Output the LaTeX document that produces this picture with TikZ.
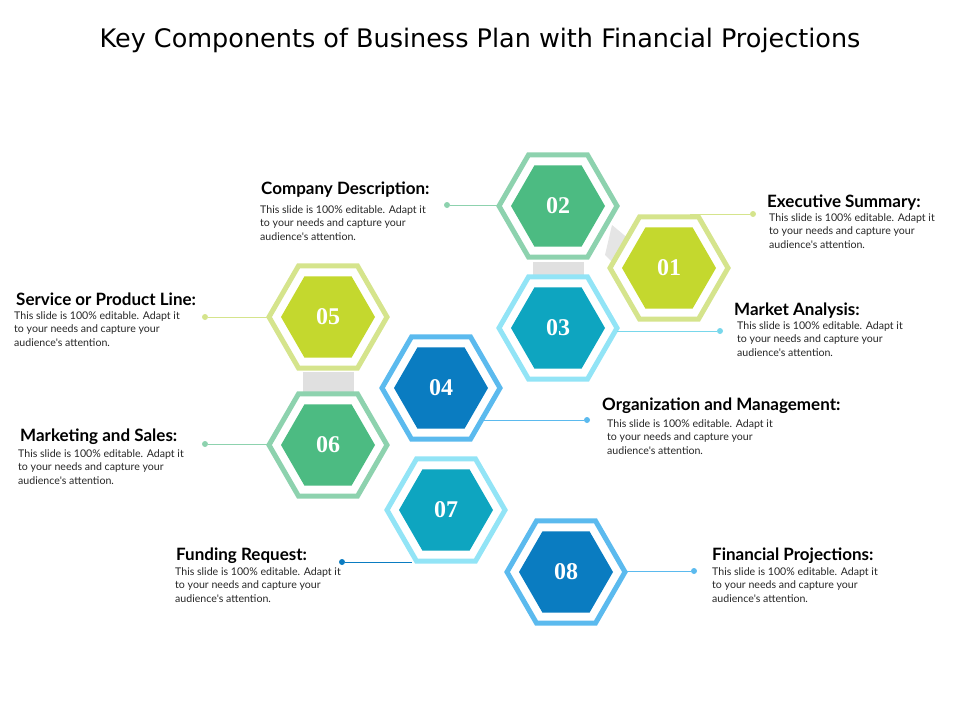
\documentclass[tikz,border=0pt]{standalone}
\usepackage{fontspec}
\setmainfont{Liberation Serif}
\newfontfamily\hd{Lato}
\newfontfamily\tl{DejaVu Sans}
\usetikzlibrary{shapes.geometric}
\definecolor{gF}{HTML}{4CBB82}\definecolor{gR}{HTML}{8DD2AE}
\definecolor{lF}{HTML}{C4D82E}\definecolor{lR}{HTML}{D5E48C}
\definecolor{cF}{HTML}{0EA5C0}\definecolor{cR}{HTML}{92E4F6}
\definecolor{bF}{HTML}{0A7CC1}\definecolor{bR}{HTML}{5BBAEE}
\tikzset{x=1pt,y=-1pt,
 hexring/.style={regular polygon,regular polygon sides=6,minimum size=118pt,line width=5pt,fill=white,inner sep=0},
 hexfill/.style={regular polygon,regular polygon sides=6,minimum size=94pt,inner sep=0,text=white,font=\bfseries\fontsize{24}{24}\selectfont},
 ttl/.style={anchor=west,inner sep=0,font=\hd\bfseries\fontsize{17}{17}\selectfont},
 body/.style={anchor=north west,inner sep=0,align=left,font=\hd\fontsize{10.6}{13.5}\selectfont,text=black!85},
 dotc/.style={circle,minimum size=6pt,inner sep=0}}
\newcommand{\bodytext}{This slide is 100\% editable. Adapt it\\to your needs and capture your\\audience's attention.}
\newcommand{\hexa}[5]{\node[hexring,draw=#4] (#1r) at #2 {}; \node[hexfill,fill=#5] (#1) at #2 {#3};}
\begin{document}
\begin{tikzpicture}
\useasboundingbox (0,0) rectangle (960,720);
\node[font=\tl\fontsize{25.5}{26}\selectfont] (title) at (480,40) {Key Components of Business Plan with Financial Projections};
% shadows
\fill[black!12] (533,262) rectangle (584,280);
\fill[black!12] (303,372) rectangle (354,392);
\fill[black!10] (612,225) -- (630,240) -- (620,270) -- (605,255) -- cycle;
\hexa{h02}{(558,206)}{02}{gR}{gF}
\hexa{h03}{(558,328)}{03}{cR}{cF}
\hexa{h01}{(669,268)}{01}{lR}{lF}
\hexa{h05}{(328,317)}{05}{lR}{lF}
\hexa{h06}{(328,445)}{06}{gR}{gF}
\hexa{h04}{(441,388)}{04}{bR}{bF}
\hexa{h07}{(446,510)}{07}{cR}{cF}
\hexa{h08}{(566,572)}{08}{bR}{bF}
% dots
\node[dotc,fill=gR] (d02) at (447,205) {};
\node[dotc,fill=lR] (d01) at (753,214) {};
\node[dotc,fill=cR!80!cF] (d03) at (720,331) {};
\node[dotc,fill=lR] (d05) at (205,317) {};
\node[dotc,fill=bR] (d04) at (587,420) {};
\node[dotc,fill=gR] (d06) at (205,444) {};
\node[dotc,fill=bF] (d07) at (342,562) {};
\node[dotc,fill=bR] (d08) at (694,571) {};
\coordinate (c01) at (690,214); \coordinate (c04) at (484,420); \coordinate (c07) at (412,562);
\coordinate (c02) at (499,205); \coordinate (c03) at (617,331); \coordinate (c05) at (269,317);
\coordinate (c06) at (269,444); \coordinate (c08) at (625,571);
\draw[gR,line width=0.8pt] (d02) -- (c02);
\draw[lR,line width=0.8pt] (d01) -- (c01);
\draw[cR!80!cF,line width=0.8pt] (d03) -- (c03);
\draw[lR,line width=0.8pt] (d05) -- (c05);
\draw[bR,line width=0.8pt] (d04) -- (c04);
\draw[gR,line width=0.8pt] (d06) -- (c06);
\draw[bF,line width=0.8pt] (d07) -- (c07);
\draw[bR,line width=0.8pt] (d08) -- (c08);
% texts
\node[ttl] (t02) at (261,190) {Company Description:};
\node[body] (b02) at (260,205) {\bodytext};
\node[ttl] (t01) at (767,203) {Executive Summary:};
\node[body] (b01) at (769,213) {\bodytext};
\node[ttl] (t03) at (734,311) {Market Analysis:};
\node[body] (b03) at (737,321) {\bodytext};
\node[ttl] (t05) at (16,299) {Service or Product Line:};
\node[body] (b05) at (14,311) {\bodytext};
\node[ttl] (t04) at (602,406) {Organization and Management:};
\node[body] (b04) at (607,419) {\bodytext};
\node[ttl] (t06) at (20,437) {Marketing and Sales:};
\node[body] (b06) at (18,449) {\bodytext};
\node[ttl] (t07) at (176,556) {Funding Request:};
\node[body] (b07) at (175,567) {\bodytext};
\node[ttl] (t08) at (712,556) {Financial Projections:};
\node[body] (b08) at (712,567) {\bodytext};
\end{tikzpicture}
\end{document}
